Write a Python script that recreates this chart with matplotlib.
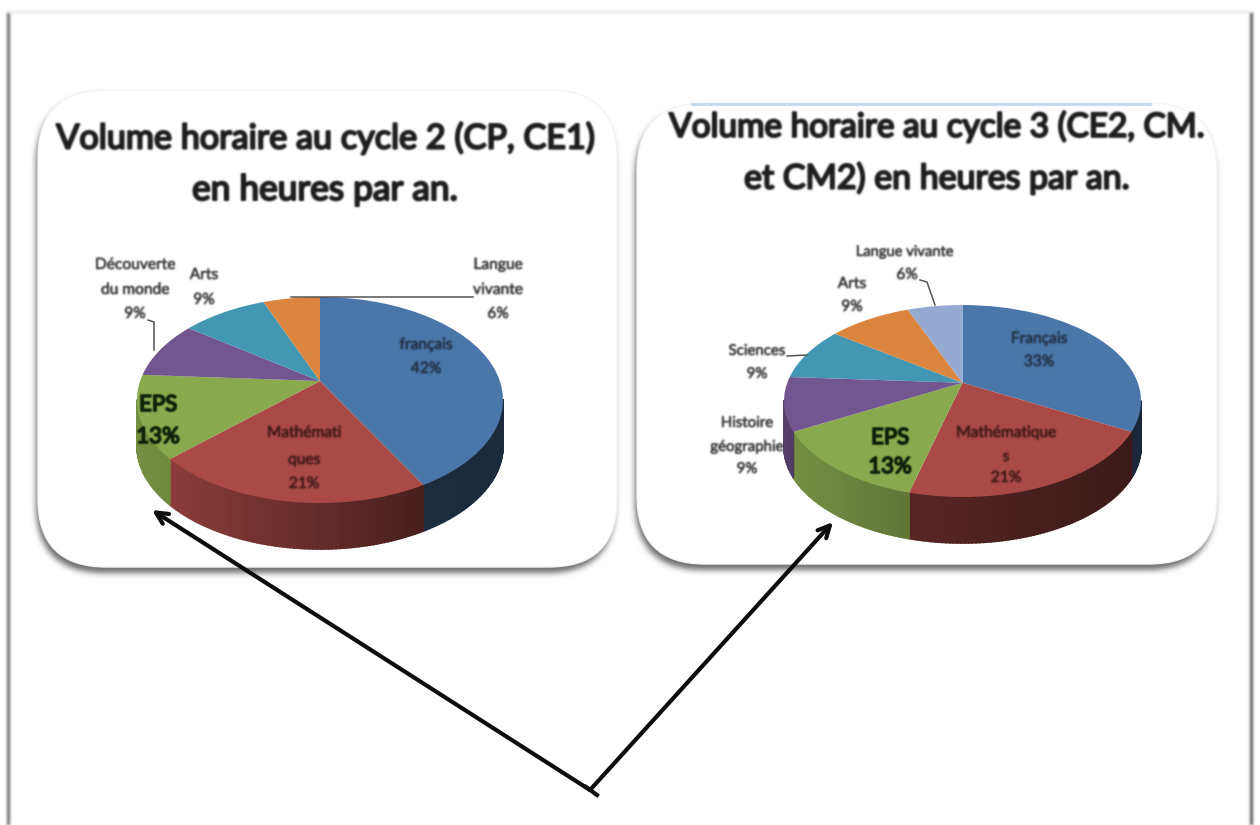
import numpy as np
import matplotlib
matplotlib.use("Agg")
import matplotlib.pyplot as plt
import matplotlib.patheffects as pe
from matplotlib.patches import FancyBboxPatch
from matplotlib.transforms import Transform

# valeurs
noms_cycle2 = ["français", "Mathématiques", "EPS", "Découverte du monde", "Arts", "Langue vivante"]
valeurs_cycle2 = [42, 21, 13, 9, 9, 6]
noms_cycle3 = ["Français", "Mathématiques", "EPS", "Histoire géographie", "Sciences", "Arts", "Langue vivante"]
valeurs_cycle3 = [33, 21, 13, 9, 9, 9, 6]

titre_cycle2 = ["Volume horaire au cycle 2 (CP, CE1)", "en heures par an."]
titre_cycle3 = ["Volume horaire au cycle 3 (CE2, CM.", "et CM2) en heures par an."]

couleurs = ["#4a76a9", "#a94a46", "#8aa84e", "#72568f", "#4497b2", "#dc853e", "#94aad0"]

plt.rcParams["font.family"] = ["Lato", "DejaVu Sans"]


def flou(sigma):
    # petit flou gaussien, l'image d'origine est tres floue
    pad = int(sigma * 3) + 1
    x = np.arange(-pad, pad + 1)
    k = np.exp(-0.5 * (x / sigma) ** 2)
    k = k / k.sum()

    def lisse(a):
        a = np.apply_along_axis(lambda v: np.convolve(v, k, mode="same"), 0, a)
        return np.apply_along_axis(lambda v: np.convolve(v, k, mode="same"), 1, a)

    def filtre(img, dpi):
        out = np.pad(img, ((pad, pad), (pad, pad), (0, 0)))
        alpha = lisse(out[:, :, 3])
        # on garde la couleur, seul l'alpha s'etale
        for i in range(3):
            out[:, :, i] = lisse(out[:, :, i] * out[:, :, 3]) / np.maximum(alpha, 1e-4)
        out[:, :, 3] = alpha
        return out, -pad, -pad

    return filtre


class Perspective(Transform):
    # disque unite -> ellipse, le centre du camembert monte de k
    input_dims = 2
    output_dims = 2

    def __init__(self, cx, cy, rx, ry, k):
        super().__init__()
        self.cx, self.cy, self.rx, self.ry, self.k = cx, cy, rx, ry, k

    def transform_non_affine(self, values):
        x, y = values[:, 0], values[:, 1]
        d = 1 + self.k * y
        u = x * np.sqrt(1 - self.k ** 2) / d
        v = (y + self.k) / d
        return np.column_stack([self.cx + self.rx * u, self.cy - self.ry * v])


def melange(couleur, f):
    return tuple(c * f for c in matplotlib.colors.to_rgb(couleur))


def camembert(ax, valeurs, cx, cy, rx, ry, k, prof, ombres):
    wedges, _ = ax.pie(valeurs, colors=couleurs[:len(valeurs)], startangle=90,
                       counterclock=False, wedgeprops={"linewidth": 0})
    proj = Perspective(cx, cy, rx, ry, k)
    for w, c, (f0, f1) in zip(wedges, couleurs, ombres):
        w.set_transform(proj + ax.transData)
        w.set_zorder(4)
        # flanc du camembert, par petites bandes
        t = np.radians(np.arange(w.theta1, w.theta2 + 1.0, 1.0))
        t[-1] = min(t[-1], np.radians(w.theta2))
        pts = proj.transform_non_affine(np.column_stack([np.cos(t), np.sin(t)]))
        visible = np.sin(t) + k < 0
        for i in range(len(t) - 1):
            if not (visible[i] or visible[i + 1]):
                continue
            a = (pts[i][0] - pts[:, 0].min()) / max(np.ptp(pts[:, 0]), 1)
            col = melange(c, f0 + (f1 - f0) * a)
            ax.fill([pts[i][0], pts[i + 1][0], pts[i + 1][0], pts[i][0]],
                    [pts[i][1], pts[i + 1][1], pts[i + 1][1] + prof, pts[i][1] + prof],
                    color=col, linewidth=1.2, zorder=3)


def panneau(ax, x0, y0, x1, y1):
    r = 68
    ombre = FancyBboxPatch((x0 + r - 2, y0 + r + 6), x1 - x0 - 2 * r, y1 - y0 - 2 * r,
                           boxstyle="round,pad=%d,rounding_size=%d" % (r, r),
                           fc="#6e6e6e", ec="none", zorder=1)
    ombre.set_agg_filter(flou(3))
    ax.add_patch(ombre)
    ax.add_patch(FancyBboxPatch((x0 + r, y0 + r), x1 - x0 - 2 * r, y1 - y0 - 2 * r,
                                boxstyle="round,pad=%d,rounding_size=%d" % (r, r),
                                fc="white", ec="#f4f4f4", lw=1, zorder=2))


def texte(ax, x, ys, lignes, taille=11.2, gras=0.35, couleur="#333333", sigma=0.9):
    for y, l in zip(ys, lignes):
        t = ax.text(x, y, l, ha="center", va="center", fontsize=taille,
                    color=couleur, zorder=6)
        # Lato n'a pas de vrai gras ici, on epaissit le trait
        t.set_path_effects([pe.withStroke(linewidth=gras, foreground=couleur)])
        t.set_agg_filter(flou(sigma))


fig = plt.figure(figsize=(12.6, 8.25), dpi=100)
ax = fig.add_axes([0, 0, 1, 1])

# cadre de la page
for xs, ys, c, lw in [([8, 8], [12, 825], "#7a7a7a", 2.4),
                      ([1251, 1251], [12, 825], "#6a6a6a", 2.4),
                      ([8, 1251], [12, 12], "#e8e8e8", 1.5)]:
    ligne, = ax.plot(xs, ys, color=c, lw=lw, zorder=1, solid_capstyle="butt")
    ligne.set_agg_filter(flou(1.2))

panneau(ax, 38, 90, 617, 567)
panneau(ax, 637, 103, 1217, 564)
ax.plot([692, 1150], [104, 104], color="#c5d8ee", lw=2, zorder=3)

ombres2 = [(0.40, 0.36), (0.82, 0.42), (0.85, 0.82), (0.8, 0.8), (0.8, 0.8), (0.8, 0.8)]
ombres3 = [(0.36, 0.34), (0.52, 0.34), (0.85, 0.70), (0.75, 0.7), (0.8, 0.8), (0.8, 0.8), (0.8, 0.8)]
camembert(ax, valeurs_cycle2, 320, 400, 183, 103, 0.184, 46, ombres2)
camembert(ax, valeurs_cycle3, 962.5, 401, 178.5, 96, 0.19, 46, ombres3)

ax.set_aspect("auto")
ax.set_xlim(0, 1260)
ax.set_ylim(825, 0)
ax.set_position([0, 0, 1, 1])
ax.axis("off")

# titres
texte(ax, 325, [138], titre_cycle2[:1], taille=24.6, gras=1.5, couleur="#1c1c1c", sigma=0.9)
texte(ax, 325, [190], titre_cycle2[1:], taille=25.4, gras=1.5, couleur="#1c1c1c", sigma=0.9)
texte(ax, 937, [127], titre_cycle3[:1], taille=24, gras=1.5, couleur="#1c1c1c", sigma=0.9)
texte(ax, 937, [178], titre_cycle3[1:], taille=24.4, gras=1.5, couleur="#1c1c1c", sigma=0.9)

# etiquettes cycle 2
texte(ax, 426, [345, 369], ["français", "42%"], couleur="#1f2c3d")
texte(ax, 304, [433, 460, 484], ["Mathémati", "ques", "21%"], couleur="#3a1614")
texte(ax, 158, [405, 437], ["EPS", "13%"], taille=16, gras=1.2, couleur="#10200a", sigma=0.7)
texte(ax, 498, [265, 290, 314], ["Langue", "vivante", "6%"])
texte(ax, 204, [275, 300], ["Arts", "9%"])
texte(ax, 135, [265, 290, 314], ["Découverte", "du monde", "9%"])

# etiquettes cycle 3
texte(ax, 1039, [339, 362], ["Français", "33%"], couleur="#1f2c3d")
texte(ax, 1006, [433, 457, 478], ["Mathématique", "s", "21%"], couleur="#3a1614")
texte(ax, 890, [438, 467], ["EPS", "13%"], taille=16, gras=1.2, couleur="#10200a", sigma=0.7)
texte(ax, 747, [423, 447, 469], ["Histoire", "géographie", "9%"], taille=10.8)
texte(ax, 757, [351, 374], ["Sciences", "9%"], taille=10.8)
texte(ax, 852, [284, 307], ["Arts", "9%"])
texte(ax, 905, [252], ["Langue vivante"], taille=10.6)
texte(ax, 907, [275], ["6%"])

# traits de rappel
for xs, ys in [([291, 473], [297, 297]),
               ([148, 154, 154], [320, 322, 350]),
               ([787, 807], [356, 355]),
               ([920, 927, 935], [280, 282, 305])]:
    ax.plot(xs, ys, color="#555555", lw=1.1, zorder=5)

# fleches
for fin in [(152, 510), (833, 522)]:
    ax.annotate("", xy=fin, xytext=(590, 790), zorder=7,
                arrowprops=dict(arrowstyle="->,head_length=0.85,head_width=0.42",
                                color="#0d0d0d", lw=3.0, shrinkA=0, shrinkB=0))
ax.plot([586, 597], [787, 795], color="#0d0d0d", lw=3.0, zorder=7)

fig.savefig("out.png", dpi=100)
